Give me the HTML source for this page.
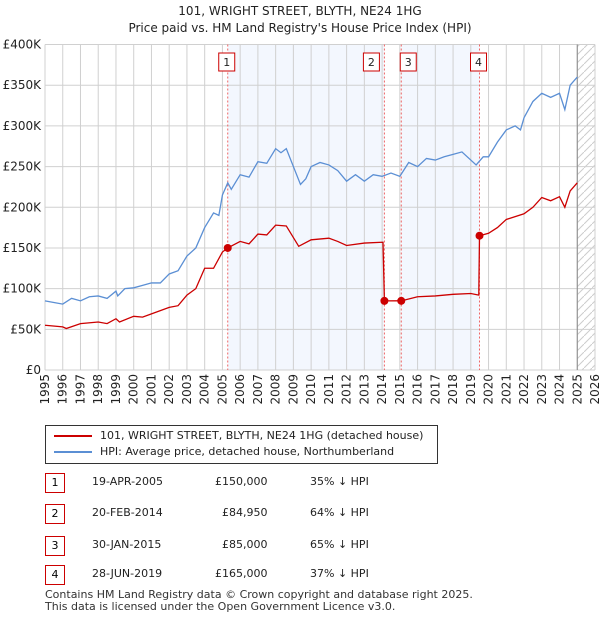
<!DOCTYPE html>
<html><head><meta charset="utf-8"><style>
body{margin:0;background:#fff;font-family:"DejaVu Sans","Liberation Sans",sans-serif;}
#wrap{position:relative;width:600px;height:620px;overflow:hidden}
.t{position:absolute;font-size:11px;color:#222;white-space:nowrap}
.box{position:absolute;border:1px solid #c00;font-size:11px;width:18px;height:18px;line-height:18px;text-align:center;background:#fff}
</style></head><body>
<div id="wrap">
<svg id="chart" width="600" height="420" style="position:absolute;left:0;top:0" font-family="DejaVu Sans, Liberation Sans, sans-serif"></svg>
<div style="position:absolute;left:45px;top:425px;width:391px;height:37px;border:1px solid #333"></div>
<svg width="600" height="470" style="position:absolute;left:0;top:0">
<line x1="54" y1="436" x2="92" y2="436" stroke="#cc0000" stroke-width="2"/>
<line x1="54" y1="452" x2="92" y2="452" stroke="#5b8fd4" stroke-width="2"/>
</svg>
<div class="t" style="left:100px;top:429px">101, WRIGHT STREET, BLYTH, NE24 1HG (detached house)</div>
<div class="t" style="left:100px;top:445px">HPI: Average price, detached house, Northumberland</div>
<div class="box" style="left:45px;top:473px">1</div>
<div class="t" style="left:92px;top:475px">19-APR-2005</div>
<div class="t" style="left:215px;top:475px">£150,000</div>
<div class="t" style="left:310px;top:475px">35% ↓ HPI</div>
<div class="box" style="left:45px;top:504px">2</div>
<div class="t" style="left:92px;top:506px">20-FEB-2014</div>
<div class="t" style="left:222px;top:506px">£84,950</div>
<div class="t" style="left:310px;top:506px">64% ↓ HPI</div>
<div class="box" style="left:45px;top:536px">3</div>
<div class="t" style="left:92px;top:538px">30-JAN-2015</div>
<div class="t" style="left:222px;top:538px">£85,000</div>
<div class="t" style="left:310px;top:538px">65% ↓ HPI</div>
<div class="box" style="left:45px;top:565px">4</div>
<div class="t" style="left:92px;top:567px">28-JUN-2019</div>
<div class="t" style="left:215px;top:567px">£165,000</div>
<div class="t" style="left:310px;top:567px">37% ↓ HPI</div>
<div class="t" style="left:45px;top:589px;line-height:12px;color:#333">Contains HM Land Registry data © Crown copyright and database right 2025.<br>This data is licensed under the Open Government Licence v3.0.</div>
</div>
<script>
const hpiX=[1995,1995.5,1996,1996.5,1997,1997.5,1998,1998.5,1999,1999.1,1999.5,2000,2000.5,2001,2001.5,2002,2002.5,2003,2003.5,2004,2004.5,2004.8,2005,2005.3,2005.5,2006,2006.5,2007,2007.5,2008,2008.3,2008.6,2009,2009.4,2009.7,2010,2010.5,2011,2011.5,2012,2012.5,2013,2013.5,2014,2014.5,2015,2015.5,2016,2016.5,2017,2017.5,2018,2018.5,2019,2019.3,2019.7,2020,2020.5,2021,2021.5,2021.8,2022,2022.5,2023,2023.5,2024,2024.3,2024.6,2025];
const hpiY=[85,83,81,88,85,90,91,88,97,91,100,101,104,107,107,118,122,140,150,175,193,190,215,230,222,240,237,256,254,272,267,272,250,228,235,250,255,252,245,232,240,232,240,238,242,238,255,250,260,258,262,265,268,258,252,262,262,280,295,300,295,310,330,340,335,340,320,350,360];
const ppX=[1995,1996,1996.2,1997,1998,1998.5,1999,1999.2,2000,2000.5,2001,2002,2002.5,2003,2003.5,2004,2004.5,2005,2005.3,2006,2006.5,2007,2007.5,2008,2008.6,2009.3,2010,2011,2011.5,2012,2013,2014.05,2014.13,2015.08,2016,2017,2018,2019,2019.45,2019.49,2020,2020.5,2021,2022,2022.5,2023,2023.5,2024,2024.3,2024.6,2025];
const ppY=[55,53,51,57,59,57,63,59,66,65,69,77,79,92,100,125,125,145,150,158,155,167,166,178,177,152,160,162,158,153,156,157,84.95,85,90,91,93,94,92,165,168,175,185,192,200,212,208,213,200,220,230];
const saleX=[2005.3,2014.13,2015.08,2019.49];
const saleY=[150,84.95,85,165];
const saleLabels=["1","2","3","4"];
const yTicks=[0,50,100,150,200,250,300,350,400];
const yTickLabels=["£0","£50K","£100K","£150K","£200K","£250K","£300K","£350K","£400K"];
const years=[];for(let y=1995;y<=2026;y++)years.push(y);

const L=45,R=595,T=44.5,B=370;
const X=v=>L+(v-1995)/31*(R-L);
const Y=v=>B-v/400*(B-T);
const svg=document.getElementById('chart');
const NS='http://www.w3.org/2000/svg';
function mk(tag,at,parent){const e=document.createElementNS(NS,tag);for(const k in at)e.setAttribute(k,at[k]);(parent||svg).appendChild(e);return e;}
let e=mk('text',{x:300,y:15,'text-anchor':'middle','font-size':12,fill:'#222'});e.textContent='101, WRIGHT STREET, BLYTH, NE24 1HG';


e=mk('text',{x:300,y:32,'text-anchor':'middle','font-size':12,fill:'#222'});e.textContent="Price paid vs. HM Land Registry's House Price Index (HPI)";


e=mk('rect',{x:X(saleX[0]),y:T,width:X(saleX[1])-X(saleX[0]),height:B-T,fill:'#eef3fd',opacity:0.7});


e=mk('rect',{x:X(saleX[2]),y:T,width:X(saleX[3])-X(saleX[2]),height:B-T,fill:'#eef3fd',opacity:0.7});


const defs=mk('defs',{});
const pat=mk('pattern',{id:'h',width:8,height:8,patternUnits:'userSpaceOnUse'},defs);
mk('path',{d:'M0,8 L8,0',stroke:'#ccc','stroke-width':1},pat);
e=mk('rect',{x:X(2025),y:T,width:R-X(2025),height:B-T,fill:'url(#h)'});


years.forEach(y=>{mk('line',{x1:X(y),x2:X(y),y1:T,y2:B,stroke:'#d0d0d0','stroke-width':1});
 const t=mk('text',{x:0,y:0,transform:`translate(${X(y)+4},${B+4}) rotate(-90)`,'text-anchor':'end','font-size':12,fill:'#222'});t.textContent=y;
 
 });
yTicks.forEach((v,i)=>{mk('line',{x1:L,x2:R,y1:Y(v),y2:Y(v),stroke:'#d0d0d0','stroke-width':1});
 const t=mk('text',{x:L-4,y:Y(v)+4,'text-anchor':'end','font-size':12,fill:'#222'});t.textContent=yTickLabels[i];
 
 });
mk('line',{x1:X(2025),x2:X(2025),y1:T,y2:B,stroke:'#888','stroke-width':1});
saleX.forEach(v=>mk('line',{x1:X(v),x2:X(v),y1:T,y2:B,stroke:'#e66','stroke-width':1,'stroke-dasharray':'2,2'}));
e=mk('polyline',{points:hpiX.map((x,i)=>X(x)+','+Y(hpiY[i])).join(' '),fill:'none',stroke:'#5b8fd4','stroke-width':1.3});


e=mk('polyline',{points:ppX.map((x,i)=>X(x)+','+Y(ppY[i])).join(' '),fill:'none',stroke:'#cc0000','stroke-width':1.3});


saleX.forEach((v,i)=>{const c=mk('circle',{cx:X(v),cy:Y(saleY[i]),r:4,fill:'#cc0000'});
 
 
 const off=[0,-4,4,0][i];
 const g=mk('rect',{x:X(v)-9+off*2-(i==1?4:0),y:53,width:16,height:18,fill:'#fff',stroke:'#c00'});
 
 
 const t=mk('text',{x:X(v)-1+off*2-(i==1?4:0),y:66,'text-anchor':'middle','font-size':11,fill:'#222'});t.textContent=saleLabels[i];
 
 });
</script>
</body></html>
